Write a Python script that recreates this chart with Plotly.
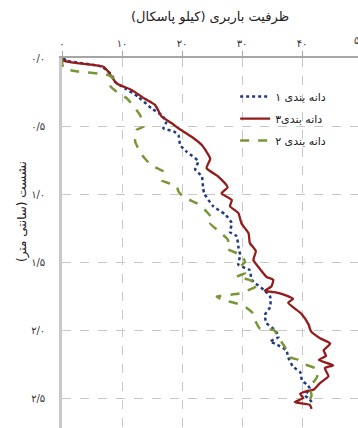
import plotly.graph_objects as go

# Series 1 (blue dotted): bearing capacity (kPa) vs settlement (cm)
cap_1 = [0.2, 0.8, 6.6, 8.3, 8.8, 10.5, 12.7, 14.9, 16.6, 17.4, 16.9, 18.6, 19.4, 19.7, 20.8, 22.7,
         22.2, 23.3, 23.5, 23.7, 25.2, 27.2, 28.3, 28.0, 29.1, 29.4, 29.7, 29.4, 31.3, 31.6, 33.8,
         34.7, 34.7, 33.8, 34.1, 35.5, 36.1, 34.7, 35.5, 37.4, 37.7, 38.5, 39.7, 40.0, 40.8, 41.3,
         40.5, 41.3, 41.6]
set_1 = [0.0, 0.02, 0.064, 0.125, 0.174, 0.223, 0.285, 0.37, 0.42, 0.468, 0.517, 0.54, 0.566, 0.64,
         0.69, 0.76, 0.82, 0.87, 0.946, 0.995, 1.09, 1.15, 1.215, 1.28, 1.31, 1.39, 1.45, 1.52, 1.56,
         1.63, 1.71, 1.755, 1.83, 1.89, 1.95, 2.0, 2.05, 2.085, 2.10, 2.15, 2.20, 2.27, 2.31, 2.37,
         2.40, 2.43, 2.48, 2.51, 2.53]

# Series 3 (red solid)
cap_3 = [0.0, 0.3, 3.0, 6.9, 7.7, 9.1, 11.6, 13.8, 15.5, 16.6, 18.3, 19.4, 21.6, 23.3, 24.7, 24.1,
         26.0, 27.6, 26.6, 28.3, 28.0, 29.4, 29.9, 31.1, 31.3, 32.3, 31.9, 32.7, 34.1, 35.2, 34.9,
         33.8, 36.3, 38.5, 37.7, 39.9, 41.1, 41.5, 43.0, 44.7, 43.6, 44.0, 42.8, 45.2, 43.8, 44.4,
         43.0, 41.9, 40.8, 39.7, 40.2, 38.8, 41.3, 41.6]
set_3 = [0.0, 0.02, 0.04, 0.064, 0.10, 0.186, 0.235, 0.30, 0.345, 0.43, 0.48, 0.517, 0.579, 0.64,
         0.74, 0.81, 0.87, 0.95, 0.995, 1.044, 1.09, 1.14, 1.215, 1.29, 1.36, 1.42, 1.485, 1.535,
         1.61, 1.63, 1.68, 1.71, 1.73, 1.77, 1.80, 1.88, 1.96, 2.01, 2.06, 2.10, 2.15, 2.19, 2.22,
         2.26, 2.28, 2.34, 2.39, 2.44, 2.45, 2.47, 2.50, 2.53, 2.55, 2.58]

# Series 2 (green dashed)
cap_2 = [0.0, 0.0, 0.2, 2.7, 7.7, 8.8, 8.0, 9.1, 10.8, 12.2, 13.0, 13.6, 13.6, 12.4, 12.2, 13.3,
         14.9, 16.9, 16.6, 19.1, 19.4, 20.2, 23.0, 24.1, 25.2, 24.7, 26.3, 27.7, 27.4, 29.9, 30.5,
         29.7, 30.5, 29.1, 31.1, 32.7, 29.7, 25.8, 26.9, 30.2, 31.9, 32.2, 33.0, 35.3, 36.3, 37.2,
         38.0, 39.4, 40.0, 42.2, 42.7, 42.4, 41.3, 41.6, 41.3]
set_2 = [0.0, 0.015, 0.076, 0.10, 0.125, 0.16, 0.20, 0.248, 0.296, 0.37, 0.42, 0.48, 0.505, 0.53,
         0.615, 0.71, 0.79, 0.836, 0.90, 0.94, 0.98, 1.02, 1.08, 1.13, 1.19, 1.215, 1.28, 1.34,
         1.40, 1.45, 1.50, 1.535, 1.58, 1.61, 1.63, 1.67, 1.73, 1.755, 1.78, 1.82, 1.88, 1.93, 1.99,
         2.0, 2.07, 2.13, 2.20, 2.22, 2.245, 2.28, 2.31, 2.355, 2.42, 2.48, 2.51]

x_tickvals = [0, 10, 20, 30, 40]
x_ticktext = ["۰", "۱۰", "۲۰", "۳۰", "۴۰"]
y_tickvals = [0.0, 0.5, 1.0, 1.5, 2.0, 2.5]
y_ticktext = ["۰/۰", "۰/۵", "۱/۰", "۱/۵", "۲/۰", "۲/۵"]

name_1 = "دانه بندی ۱"
name_3 = "دانه بندی۳"
name_2 = "دانه بندی ۲"
x_title = "\u200fظرفیت باربری (کیلو پاسکال)\u200f"
y_title = "\u200fنشست (سانتی متر)\u200f"

FONT = "DejaVu Sans, Tahoma, sans-serif"

fig = go.Figure()
fig.add_trace(go.Scatter(x=cap_1, y=set_1, mode="lines", name=name_1, legendgroup="a",
                         line=dict(color="#1f3b82", width=2.5, dash="dot", shape="spline", smoothing=0.5)))
fig.add_trace(go.Scatter(x=cap_3, y=set_3, mode="lines", name=name_3, legendgroup="b",
                         line=dict(color="#941b1b", width=2.3, shape="spline", smoothing=0.5)))
fig.add_trace(go.Scatter(x=cap_2, y=set_2, mode="lines", name=name_2, legendgroup="c",
                         line=dict(color="#7a9536", width=2.5, dash="dash", shape="spline", smoothing=0.5)))

W, H = 358, 428
L, T = 62, 58
fig.update_layout(
    width=W, height=H,
    margin=dict(l=L, r=0, t=T, b=0),
    paper_bgcolor="white", plot_bgcolor="white",
    font=dict(family=FONT, color="#303030"),
    showlegend=True,
    legend=dict(x=0.585, y=0.935, xanchor="left", yanchor="top", bgcolor="rgba(0,0,0,0)",
                font=dict(size=11, family=FONT, color="#202020"), tracegroupgap=3,
                itemwidth=30),
    xaxis=dict(side="top", range=[0, (W - L) / 6.0], tickvals=x_tickvals, ticktext=x_ticktext,
               showline=True, linecolor="#a6a6a6", linewidth=1.5,
               ticks="outside", ticklen=5, tickcolor="#a6a6a6",
               showgrid=True, gridcolor="#c8c8c8", griddash="dash", gridwidth=1,
               zeroline=False, tickfont=dict(size=10, family=FONT, color="#303030")),
    yaxis=dict(range=[(H - T) / 136.0, 0], tickvals=y_tickvals, ticktext=y_ticktext,
               showline=True, linecolor="#c8c8c8", linewidth=2.5,
               ticks="", ticklabelstandoff=12,
               showgrid=True, gridcolor="#c8c8c8", griddash="dash", gridwidth=1,
               zeroline=False, tickfont=dict(size=10, family=FONT, color="#303030")),
    annotations=[
        dict(text=x_title, xref="paper", yref="paper", x=0.5, y=1 + (T - 17) / (H - T),
             xanchor="center", yanchor="middle", showarrow=False,
             font=dict(size=13, family=FONT, color="#202020")),
        dict(text=y_title, xref="paper", yref="paper", x=-(L - 22) / (W - L), y=1 - (212 - T) / (H - T),
             xanchor="center", yanchor="middle", showarrow=False, textangle=-90,
             font=dict(size=12, family=FONT, color="#202020")),
        dict(text="۵۰", xref="paper", yref="paper", x=(358 - L) / (W - L), y=1 + (T - 40) / (H - T),
             xanchor="left", xshift=-6, yanchor="middle", showarrow=False,
             font=dict(size=10, family=FONT, color="#303030")),
    ],
)

fig.write_html("out.html")
